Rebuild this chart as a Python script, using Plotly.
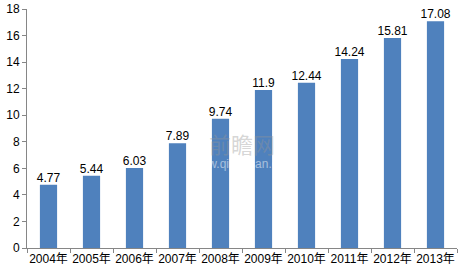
import plotly.graph_objects as go

years = ["2004年", "2005年", "2006年", "2007年", "2008年", "2009年", "2010年", "2011年", "2012年", "2013年"]
values = [4.77, 5.44, 6.03, 7.89, 9.74, 11.9, 12.44, 14.24, 15.81, 17.08]
labels = ["4.77", "5.44", "6.03", "7.89", "9.74", "11.9", "12.44", "14.24", "15.81", "17.08"]
y_ticks = [0, 2, 4, 6, 8, 10, 12, 14, 16, 18]

font_family = "Liberation Sans, Noto Sans CJK SC, sans-serif"

fig = go.Figure()
fig.add_trace(go.Bar(
    x=years, y=values,
    marker=dict(color="#4F81BD", line=dict(width=0)),
    width=0.4, hoverinfo="skip",
))
fig.add_trace(go.Scatter(
    x=years, y=values, text=labels, mode="text", textposition="top center",
    textfont=dict(size=12, color="#000000", family=font_family),
    cliponaxis=False, hoverinfo="skip",
))

fig.update_layout(
    width=464, height=274,
    margin=dict(l=27, r=7, t=9, b=26),
    paper_bgcolor="white", plot_bgcolor="white",
    showlegend=False,
    font=dict(family=font_family, size=12, color="#000000"),
    xaxis=dict(
        showline=True, linecolor="#868686", linewidth=1,
        ticks="outside", ticklen=4, tickcolor="#868686", tickson="boundaries",
        tickfont=dict(size=12), showgrid=False, tickangle=0, automargin=False,
    ),
    yaxis=dict(
        range=[0, 18], tickvals=y_ticks, showline=True, linecolor="#868686", linewidth=1,
        ticks="outside", ticklen=4, tickcolor="#868686", showgrid=False,
        tickfont=dict(size=12), zeroline=False, automargin=False,
    ),
)

fig.add_annotation(
    x=0.5, y=0.44, xref="paper", yref="paper", text="前瞻网", showarrow=False,
    font=dict(size=22, color="rgba(150,150,150,0.4)", family="Noto Sans CJK SC"),
)
fig.add_annotation(
    x=0.5, y=0.35, xref="paper", yref="paper", text="www.qianzhan.com", showarrow=False,
    font=dict(size=12, color="rgba(255,255,255,0.5)", family=font_family),
)

fig.write_html("out.html")
